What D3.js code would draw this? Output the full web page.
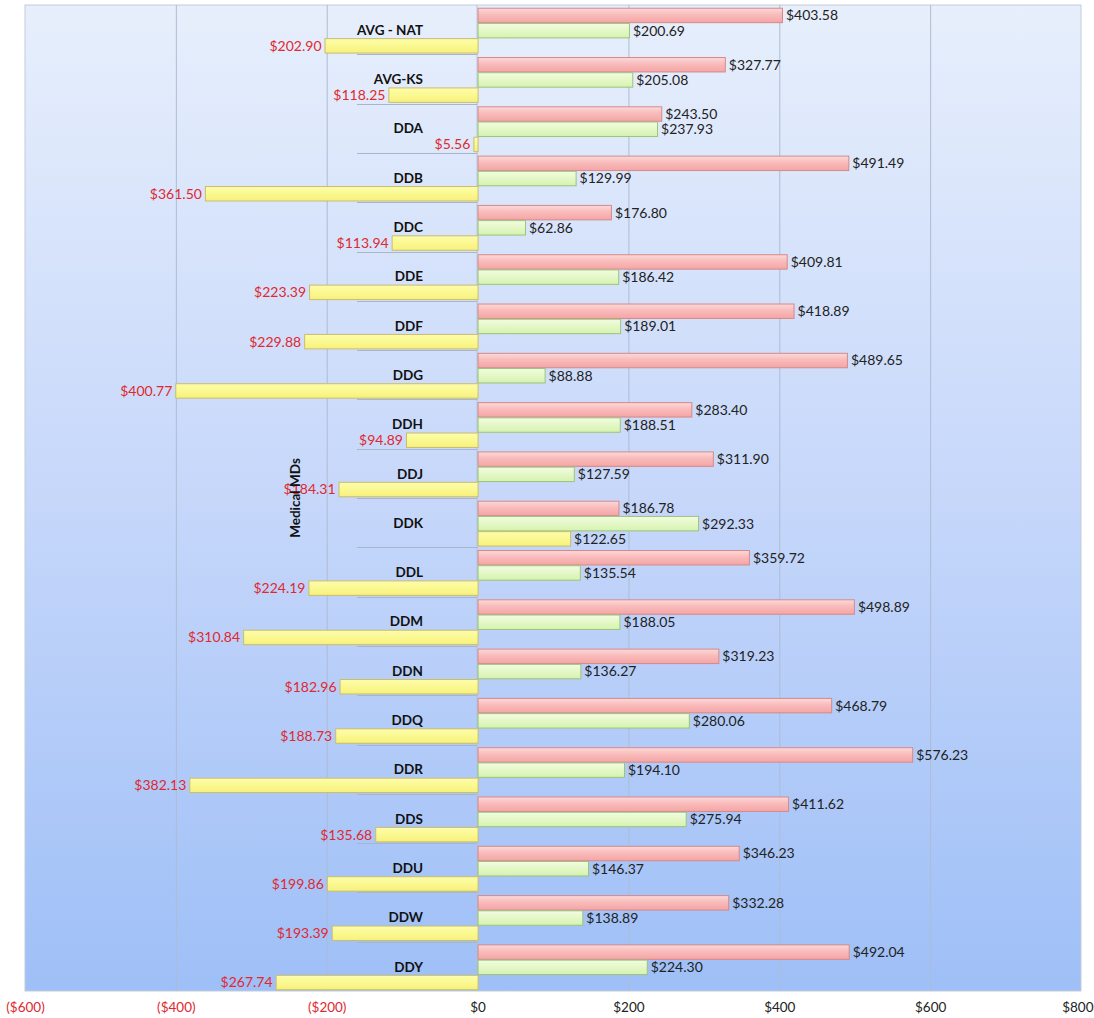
<!DOCTYPE html>
<html>
<head>
<meta charset="utf-8">
<script src="https://cdn.jsdelivr.net/npm/d3@7"></script>
<style>
  html, body { margin: 0; padding: 0; background: #ffffff; }
  svg { display: block; font-family: Lato, "Open Sans", sans-serif; }
</style>
</head>
<body>
<svg id="chart" width="1094" height="1018"></svg>
<script>
// Cost per provider, three measures per row
const categories = ["AVG - NAT", "AVG-KS", "DDA", "DDB", "DDC", "DDE", "DDF", "DDG", "DDH", "DDJ",
  "DDK", "DDL", "DDM", "DDN", "DDQ", "DDR", "DDS", "DDU", "DDW", "DDY"];
const seriesNames = ["s1", "s2", "s3"];
const s1Values = [403.58, 327.77, 243.50, 491.49, 176.80, 409.81, 418.89, 489.65, 283.40, 311.90,
  186.78, 359.72, 498.89, 319.23, 468.79, 576.23, 411.62, 346.23, 332.28, 492.04];
const s2Values = [200.69, 205.08, 237.93, 129.99, 62.86, 186.42, 189.01, 88.88, 188.51, 127.59,
  292.33, 135.54, 188.05, 136.27, 280.06, 194.10, 275.94, 146.37, 138.89, 224.30];
const s3Values = [-202.90, -118.25, -5.56, -361.50, -113.94, -223.39, -229.88, -400.77, -94.89, -184.31,
  122.65, -224.19, -310.84, -182.96, -188.73, -382.13, -135.68, -199.86, -193.39, -267.74];
const xTicks = [-600, -400, -200, 0, 200, 400, 600, 800];
const groupLabel = "Medical MDs";

const svg = d3.select("#chart");
const plot = { left: 25, right: 1081, top: 5, bottom: 991 };

const x = d3.scaleLinear().domain([-600, 800]).range([plot.left, plot.right]);
const y = d3.scaleBand().domain(categories).range([plot.top, plot.bottom]).paddingInner(0).paddingOuter(0);
const ySub = d3.scaleBand().domain(seriesNames)
  .range([y.bandwidth() * 0.055, y.bandwidth() * 0.965]).paddingInner(0.05);

const defs = svg.append("defs");
const bg = defs.append("linearGradient").attr("id", "bgGrad").attr("x1", 0).attr("y1", 0).attr("x2", 0).attr("y2", 1);
bg.append("stop").attr("offset", "0%").attr("stop-color", "#e7effc");
bg.append("stop").attr("offset", "50%").attr("stop-color", "#c6d7fa");
bg.append("stop").attr("offset", "100%").attr("stop-color", "#9ebff7");

const styles = {
  s1: { top: "#fcd9d9", mid: "#f9bbbb", bot: "#f5a5a5", stroke: "#d48a8a" },
  s2: { top: "#f2fce2", mid: "#e5f8c9", bot: "#d6f2b0", stroke: "#9cc478" },
  s3: { top: "#fdfcac", mid: "#fbf993", bot: "#f6f07c", stroke: "#c9bd6e" }
};
Object.entries(styles).forEach(([k, s]) => {
  const g = defs.append("linearGradient").attr("id", "grad-" + k).attr("x1", 0).attr("y1", 0).attr("x2", 0).attr("y2", 1);
  g.append("stop").attr("offset", "0%").attr("stop-color", s.top);
  g.append("stop").attr("offset", "45%").attr("stop-color", s.mid);
  g.append("stop").attr("offset", "100%").attr("stop-color", s.bot);
});

// plot background
svg.append("rect")
  .attr("x", plot.left).attr("y", plot.top)
  .attr("width", plot.right - plot.left).attr("height", plot.bottom - plot.top)
  .attr("fill", "url(#bgGrad)")
  .attr("stroke", "#c3ccd9").attr("stroke-width", 1);

// vertical gridlines
svg.append("g").selectAll("line")
  .data(xTicks.filter(t => t !== 0 && t !== -600 && t !== 800))
  .join("line")
  .attr("x1", d => x(d) + 0.5).attr("x2", d => x(d) + 0.5)
  .attr("y1", plot.top).attr("y2", plot.bottom)
  .attr("stroke", "#aebcd3").attr("stroke-width", 1);

// category separators on the label side
const catAxisLeft = 357;
svg.append("g").selectAll("line")
  .data(categories.slice(1))
  .join("line")
  .attr("x1", catAxisLeft).attr("x2", x(0))
  .attr("y1", d => Math.round(y(d)) + 0.5).attr("y2", d => Math.round(y(d)) + 0.5)
  .attr("stroke", "#a8b6cc").attr("stroke-width", 1);

// zero line
svg.append("line")
  .attr("x1", x(0) - 0.5).attr("x2", x(0) - 0.5)
  .attr("y1", plot.top).attr("y2", plot.bottom)
  .attr("stroke", "#b3c0d6").attr("stroke-width", 1);

const rows = categories.map((c, i) => ({
  cat: c,
  vals: [
    { key: "s1", v: s1Values[i] },
    { key: "s2", v: s2Values[i] },
    { key: "s3", v: s3Values[i] }
  ]
}));

// category labels
svg.append("g").selectAll("text")
  .data(categories)
  .join("text")
  .attr("x", 423)
  .attr("y", d => y(d) + ySub("s2") + ySub.bandwidth() / 2)
  .attr("dy", "0.35em")
  .attr("text-anchor", "end")
  .attr("font-size", 13.5)
  .attr("font-weight", "bold")
  .attr("fill", "#111")
  .text(d => d);

const groups = svg.append("g").selectAll("g")
  .data(rows)
  .join("g")
  .attr("transform", d => `translate(0,${y(d.cat)})`);

groups.selectAll("rect")
  .data(d => d.vals)
  .join("rect")
  .attr("x", d => Math.min(x(0), x(d.v)) + 0.5)
  .attr("y", d => ySub(d.key) + 0.5)
  .attr("width", d => Math.abs(x(d.v) - x(0)))
  .attr("height", ySub.bandwidth())
  .attr("fill", d => `url(#grad-${d.key})`)
  .attr("stroke", d => styles[d.key].stroke)
  .attr("stroke-width", 1);

const fmt = d3.format(",.2f");
groups.selectAll("text")
  .data(d => d.vals)
  .join("text")
  .attr("x", d => d.v < 0 ? x(d.v) - 3 : x(d.v) + 4)
  .attr("y", d => ySub(d.key) + ySub.bandwidth() / 2 + 0.5)
  .attr("dy", "0.35em")
  .attr("text-anchor", d => d.v < 0 ? "end" : "start")
  .attr("font-size", 14)
  .attr("fill", d => d.v < 0 ? "#e0282e" : "#222")
  .text(d => "$" + fmt(Math.abs(d.v)));

// outer group label
svg.append("text")
  .attr("transform", `translate(300,${(plot.top + plot.bottom) / 2}) rotate(-90)`)
  .attr("text-anchor", "middle")
  .attr("font-size", 13.5)
  .attr("font-weight", "bold")
  .attr("fill", "#111")
  .text(groupLabel);

// value axis
const xAxis = d3.axisBottom(x)
  .tickValues(xTicks)
  .tickSize(0)
  .tickPadding(0)
  .tickFormat(d => d < 0 ? `($${Math.abs(d)})` : `$${d}`);
const ax = svg.append("g").attr("transform", `translate(0,${plot.bottom})`).call(xAxis);
ax.select(".domain").remove();
ax.selectAll("text")
  .attr("y", 11)
  .attr("font-size", 13.5)
  .attr("font-family", "Lato, 'Open Sans', sans-serif")
  .attr("fill", d => d < 0 ? "#e0282e" : "#222");
// keep the last tick label inside the page edge
ax.selectAll(".tick").filter(d => d === xTicks[xTicks.length - 1]).select("text")
  .attr("text-anchor", "end")
  .attr("x", 12);
</script>
</body>
</html>
